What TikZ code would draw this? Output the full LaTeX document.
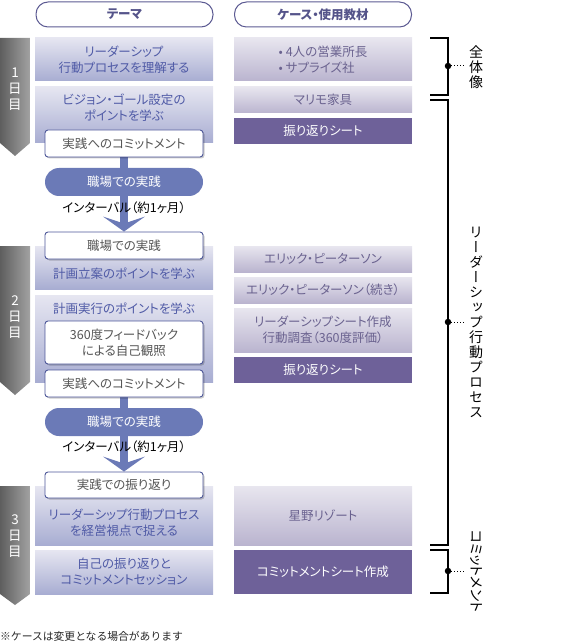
\documentclass[tikz,border=0pt]{standalone}
\usepackage{fontspec}
\setmainfont[RawFeature=+palt]{Noto Sans CJK JP}
\newfontfamily\vjp[RawFeature=+vert]{Noto Sans CJK JP}
\newfontfamily\fulljp{Noto Sans CJK JP}
\usetikzlibrary{positioning}
\usetikzlibrary{arrows.meta}
\usetikzlibrary{shadows}
\usetikzlibrary{backgrounds}
\definecolor{hdrline}{HTML}{5C5A92}
\definecolor{hdrtext}{HTML}{55548A}
\definecolor{thtop}{HTML}{E6E6F1}
\definecolor{thbot}{HTML}{A8ADD2}
\definecolor{thtext}{HTML}{4F5AA6}
\definecolor{cstop}{HTML}{E8E6EF}
\definecolor{csbot}{HTML}{BAB4CF}
\definecolor{cstext}{HTML}{6A628F}
\definecolor{csdark}{HTML}{6E6199}
\definecolor{pillc}{HTML}{6B7AB7}
\definecolor{wline}{HTML}{4D5799}
\definecolor{wtext}{HTML}{555555}
\definecolor{daydk}{HTML}{5E5E5E}
\definecolor{daylt}{HTML}{A2A2A2}
\def\boxfont{\fontsize{12.5}{16}\selectfont}

\tikzset{
  hdr/.style={draw=hdrline, line width=1pt, rounded corners=12pt, minimum width=177pt,
    minimum height=25pt, text=hdrtext, font=\bfseries\fontsize{12.5}{14}\selectfont},
  thbox/.style={top color=thtop, bottom color=thbot, minimum width=178pt, text=thtext,
    align=center, font=\boxfont, inner sep=0pt},
  thlbl/.style={text=thtext, align=center, font=\boxfont, inner sep=0pt},
  csbox/.style={top color=cstop, bottom color=csbot, minimum width=178pt, text=cstext,
    align=center, font=\boxfont, inner sep=0pt},
  csdk/.style={fill=csdark, minimum width=178pt, text=white, align=center, font=\boxfont,
    inner sep=0pt},
  wbox/.style={fill=white, draw=wline, line width=0.9pt, rounded corners=3pt, minimum width=158pt,
    text=wtext, align=center, font=\boxfont, inner sep=0pt,
    drop shadow={shadow xshift=1.5pt, shadow yshift=-1.5pt, fill=black, opacity=.2}},
  pill/.style={fill=pillc, rounded corners=14pt, minimum width=158pt, minimum height=28pt,
    text=white, font=\boxfont},
  flow/.style={line width=8pt, draw=pillc,
    -{Stealth[length=15pt, width=42pt, inset=7pt, line width=0pt]}},
  gap/.style={font=\boxfont, text=black, inner sep=0pt},
  daytxt/.style={text=white, align=center, font=\fontsize{13.5}{16}\selectfont, inner sep=0pt},
  brk/.style={line width=1.1pt, black},
  dot/.style={circle, fill=black, inner sep=0pt, minimum size=6.5pt},
  vtxt/.style={align=center, font=\vjp\fontsize{14}{15}\selectfont, inner sep=0pt},
  note/.style={font=\fulljp\fontsize{10.8}{12}\selectfont, text=black!85, inner sep=0pt}
}

\begin{document}
\begin{tikzpicture}[x=1pt, y=-1pt]
  \useasboundingbox (0,0) rectangle (584,644);

  % column headers
  \node[hdr] (hdrTheme) at (124.5,14.5) {テーマ};
  \node[hdr] (hdrCase) at (323,14.5) {ケース・使用教材};

  % day markers
  \foreach \top/\bot/\tip/\d/\c in {38/143/156/1/89, 246/382/395/2/317, 486/594/605/3/536} {
    \shade[left color=daydk, right color=daylt] (0,\top) -- (30,\top) -- (30,\bot) -- (15,\tip) -- (0,\bot) -- cycle;
    \node[daytxt] (day\d) at (15,\c) {\d\\日\\目};
  }

  % theme column
  \node[thbox, minimum height=43pt] (th1) at (124,59.5) {リーダーシップ\\行動プロセスを理解する};
  \node[thbox, minimum height=56pt] (th2) at (124,115) {};
  \node[thlbl] (th2t) at (124,107.5) {ビジョン・ゴール設定の\\ポイントを学ぶ};
  \node[thbox, minimum height=43pt] (th3) at (124,267.5) {};
  \node[thlbl] (th3t) at (124,274) {計画立案のポイントを学ぶ};
  \node[thbox, minimum height=87pt] (th4) at (124,338.5) {};
  \node[thlbl] (th4t) at (124,309) {計画実行のポイントを学ぶ};
  \node[thbox, minimum height=59pt] (th5) at (124,515.5) {};
  \node[thlbl] (th5t) at (124,522.5) {リーダーシップ行動プロセス\\を経営視点で捉える};
  \node[thbox, minimum height=44pt] (th6) at (124,572) {自己の振り返りと\\コミットメントセッション};

  % practice boxes
  \node[wbox, minimum height=27pt] (commit1) at (124,143.5) {実践へのコミットメント};
  \node[pill] (work1) at (124,182) {職場での実践};
  \node[gap] (int1) at (124,208) {インターバル（約1ヶ月）};
  \node[wbox, minimum height=27pt] (work1b) at (124,245.5) {職場での実践};
  \node[wbox, minimum height=43pt] (fb360) at (124,342.5) {360度フィードバック\\による自己観照};
  \node[wbox, minimum height=27pt] (commit2) at (124,383.5) {実践へのコミットメント};
  \node[pill] (work2) at (124,422) {職場での実践};
  \node[gap] (int2) at (124,447) {インターバル（約1ヶ月）};
  \node[wbox, minimum height=26pt] (review) at (124,485) {実践での振り返り};

  \begin{scope}[on background layer]
    \draw[flow] (commit1.south) -- (work1b.north);
    \draw[flow] (commit2.south) -- (review.north);
  \end{scope}

  % case column
  \node[csbox, minimum height=43pt, align=left] (cs1) at (323,59.5) {• 4人の営業所長\\• サプライズ社};
  \node[csbox, minimum height=26pt] (cs2) at (323,100) {マリモ家具};
  \node[csdk, minimum height=26pt] (cs3) at (323,131) {振り返りシート};
  \node[csbox, minimum height=26pt] (cs4) at (323,259) {エリック・ピーターソン};
  \node[csbox, minimum height=26pt] (cs5) at (323,290) {エリック・ピーターソン（続き）};
  \node[csbox, minimum height=44pt] (cs6) at (323,330) {リーダーシップシート作成\\行動調査（360度評価）};
  \node[csdk, minimum height=26pt] (cs7) at (323,370) {振り返りシート};
  \node[csbox, minimum height=59pt] (cs8) at (323,515.5) {星野リゾート};
  \node[csdk, minimum height=44pt] (cs9) at (323,572) {コミットメントシート作成};

  % brackets
  \draw[brk] (430,38) -- (448,38) -- (448,95) -- (430,95);
  \draw[brk] (430,100) -- (448,100) -- (448,545) -- (430,545);
  \draw[brk] (430,550) -- (448,550) -- (448,593) -- (430,593);

  \node[dot] (dot1) at (448,66) {};
  \node[dot] (dot2) at (448,322) {};
  \node[dot] (dot3) at (448,571) {};
  \node[vtxt] (whole) at (476,67) {全\\体\\像};
  \node[vtxt] (process) at (476,322) {リ\\ー\\ダ\\ー\\シ\\ッ\\プ\\行\\動\\プ\\ロ\\セ\\ス};
  \node[font=\fontsize{14}{15}\selectfont, inner sep=0pt, rotate=-90] (commitment) at (476,571) {コミットメント};

  \draw[dotted, line width=1pt] (dot1.center) -- ([xshift=-5pt]dot1.center -| whole.west);
  \draw[dotted, line width=1pt] (dot2.center) -- ([xshift=-5pt]dot2.center -| process.west);
  \draw[dotted, line width=1pt] (dot3.center) -- ([xshift=-5pt]dot3.center -| commitment.south);

  \node[note, anchor=west] (remark) at (0,636) {※ケースは変更となる場合があります};
\end{tikzpicture}
\end{document}
